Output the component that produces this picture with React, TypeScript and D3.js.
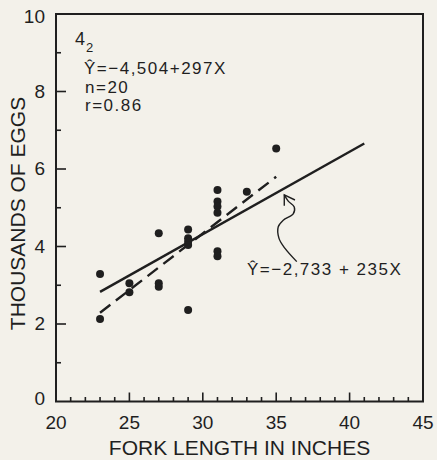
import { useMemo } from "react";
import * as d3 from "d3";

const WIDTH = 437;
const HEIGHT = 460;
const BOX = { left: 56, right: 423, top: 14, bottom: 401.5 };
const INK = "#1f1f1f";
const PAPER = "#f3f1ea";
const FONT = "'Liberation Sans', Arial, sans-serif";

// fork length (inches), eggs (thousands)
const lengths = [23, 23, 25, 25, 27, 27, 27, 29, 29, 29, 29, 29, 31, 31, 31, 31, 31, 31, 33, 35];
const eggs = [3.29, 2.13, 3.05, 2.82, 4.34, 3.05, 2.96, 4.44, 4.21, 4.12, 4.04, 2.36, 5.46, 5.16, 5.03, 4.87, 3.88, 3.75, 5.41, 6.53];

// fitted lines as drawn: [x, y] end points
const solidFit: [number, number][] = [[23, 2.83], [41, 6.66]];
const dashedFit: [number, number][] = [[23, 2.29], [35, 5.8]];

// hand-drawn arrow from the label up to the solid line
const arrowCurve: [number, number][] = [
  [36.4, 3.61], [35.6, 3.95], [35.19, 4.21], [35.14, 4.51], [35.48, 4.68],
  [36.16, 4.84], [36.23, 5.02], [35.82, 5.17], [35.55, 5.33],
];
const arrowHead: [number, number][] = [[36.28, 5.2], [35.55, 5.33], [35.55, 5.05]];

const xTicks = d3.range(21, 45);
const yTicks = d3.range(1, 10);
const xLabels = [20, 25, 30, 35, 40, 45];
const yLabels = [0, 2, 4, 6, 8, 10];

const statsLines = ["Ŷ=−4,504+297X", "n=20", "r=0.86"];
const fitLabel = "Ŷ=−2,733 + 235X";

export default function App() {
  const x = useMemo(() => d3.scaleLinear().domain([20, 45]).range([BOX.left, BOX.right]), []);
  const y = useMemo(() => d3.scaleLinear().domain([0, 10]).range([BOX.bottom, BOX.top]), []);

  const straight = d3.line<[number, number]>().x((d) => x(d[0])).y((d) => y(d[1]));
  const curvy = d3
    .line<[number, number]>()
    .x((d) => x(d[0]))
    .y((d) => y(d[1]))
    .curve(d3.curveCatmullRom.alpha(0.5));

  return (
    <svg
      width={WIDTH}
      height={HEIGHT}
      style={{ position: "absolute", left: 0, top: 0, background: PAPER }}
      fontFamily={FONT}
      fill={INK}
    >
      <rect width={WIDTH} height={HEIGHT} fill={PAPER} />

      {/* frame */}
      <rect
        x={BOX.left}
        y={BOX.top}
        width={BOX.right - BOX.left}
        height={BOX.bottom - BOX.top}
        fill="none"
        stroke={INK}
        strokeWidth={2}
      />

      {/* ticks, inside the frame */}
      {xTicks.map((t) => (
        <line
          key={"xt" + t}
          x1={x(t)}
          x2={x(t)}
          y1={BOX.bottom}
          y2={BOX.bottom - (t % 5 === 0 ? 9 : 4.5)}
          stroke={INK}
          strokeWidth={1.6}
        />
      ))}
      {yTicks.map((t) => (
        <line
          key={"yt" + t}
          x1={BOX.left}
          x2={BOX.left + (t % 2 === 0 ? 10 : 5)}
          y1={y(t)}
          y2={y(t)}
          stroke={INK}
          strokeWidth={1.6}
        />
      ))}

      {/* tick labels */}
      {xLabels.map((t) => (
        <text key={"xl" + t} x={x(t)} y={429} textAnchor="middle" fontSize={19}>
          {t}
        </text>
      ))}
      {yLabels.map((t) => (
        <text
          key={"yl" + t}
          x={45}
          y={y(t) + (t === 10 ? 4 : t === 0 ? -2 : 1)}
          textAnchor="end"
          dominantBaseline="middle"
          fontSize={19}
        >
          {t}
        </text>
      ))}

      {/* axis titles */}
      <text x={(BOX.left + BOX.right) / 2} y={455} textAnchor="middle" fontSize={21}>
        FORK LENGTH IN INCHES
      </text>
      <text
        transform={`translate(25,${213.5}) rotate(-90)`}
        textAnchor="middle"
        fontSize={21}
      >
        THOUSANDS OF EGGS
      </text>

      {/* fitted lines */}
      <path d={straight(solidFit) ?? ""} fill="none" stroke={INK} strokeWidth={2.4} />
      <path
        d={straight(dashedFit) ?? ""}
        fill="none"
        stroke={INK}
        strokeWidth={2.4}
        strokeDasharray="13 7"
      />

      {/* observations */}
      {lengths.map((l, i) => (
        <circle key={"p" + i} cx={x(l)} cy={y(eggs[i])} r={4} fill={INK} />
      ))}

      {/* panel id and stats */}
      <text x={75} y={45} fontSize={18}>
        4
      </text>
      <text x={86} y={52} fontSize={13}>
        2
      </text>
      {statsLines.map((s, i) => (
        <text key={"s" + i} x={i === 0 ? 84 : 85} y={74 + i * 18.5} fontSize={17} letterSpacing={1.5}>
          {s}
        </text>
      ))}

      {/* arrow + label for solid line */}
      <path d={curvy(arrowCurve) ?? ""} fill="none" stroke={INK} strokeWidth={1.4} />
      <path d={straight(arrowHead) ?? ""} fill="none" stroke={INK} strokeWidth={1.4} />
      <text x={247} y={275} fontSize={17} letterSpacing={1.5}>
        {fitLabel}
      </text>
    </svg>
  );
}
